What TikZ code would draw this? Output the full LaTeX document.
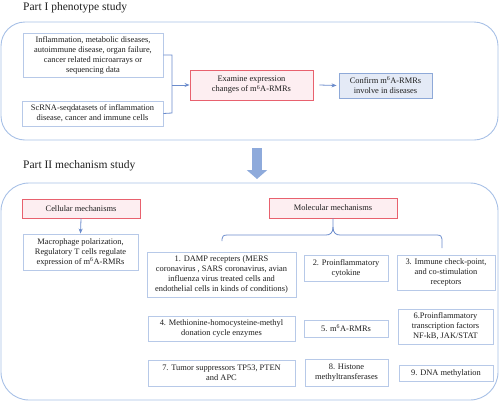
\documentclass[tikz,border=0pt]{standalone}
\usepackage{fontspec}
\setmainfont{Liberation Serif}
\usetikzlibrary{arrows.meta,positioning,calc}
\definecolor{outerc}{HTML}{A7C0E6}
\definecolor{boxc}{HTML}{B7C9E8}
\definecolor{redc}{HTML}{E8616E}
\definecolor{pinkc}{HTML}{FDEEF1}
\definecolor{confc}{HTML}{E4EAF6}
\definecolor{confb}{HTML}{8EA9D8}
\definecolor{arrc}{HTML}{6B8CCC}
\definecolor{bigc}{HTML}{8EAADB}
\definecolor{txt}{HTML}{1E1E1E}
\newcommand{\mA}{m\textsuperscript{6}A}
\begin{document}
\begin{tikzpicture}[x=1pt,y=-1pt,
  outerbox/.style={draw=outerc,line width=0.9pt,rounded corners=24pt,inner sep=0pt},
  bbox/.style={draw=boxc,fill=white,line width=0.9pt,align=center,inner sep=0pt,
    text=txt,font=\fontsize{8.4}{10}\selectfont},
  rbox/.style={bbox,draw=redc,fill=pinkc},
  cbox/.style={bbox,draw=confb,fill=confc},
  title/.style={anchor=west,text=txt,font=\fontsize{11.5}{13}\selectfont,inner sep=0pt},
  arr/.style={draw=arrc,line width=0.8pt,-{Stealth[length=5pt,width=4pt]}},
  ln/.style={draw=arrc,line width=0.8pt}]
\useasboundingbox (0,0) rectangle (500,402);

% Part I
\node[title] (t1) at (23,8) {Part I phenotype study};
\node[outerbox,minimum width=497pt,minimum height=118pt] (top) at (249.5,81) {};
\node[bbox,minimum width=140pt,minimum height=44pt] (A) at (93,55)
  {Inflammation, metabolic diseases,\\autoimmune disease, organ failure,\\cancer related microarrays or\\sequencing data};
\node[bbox,minimum width=141pt,minimum height=25pt] (B) at (92.5,113.5)
  {ScRNA-seqdatasets of inflammation\\disease, cancer and immune cells};
\node[rbox,minimum width=123pt,minimum height=30pt] (E) at (251.5,85)
  {Examine expression\\changes of \mA-RMRs};
\node[cbox,minimum width=93pt,minimum height=25pt] (C) at (385.5,85.5)
  {Confirm \mA-RMRs\\involve in diseases};
\coordinate (jA) at (172,55);
\coordinate (jB) at (172,113);
\coordinate (jM) at (172,85);
\draw[ln] (A.east) -- (jA) -- (jB) -- (B.east);
\draw[arr] (jM) -- (E.west);
\draw[arr] ([xshift=6pt]E.east) -- ([xshift=-2pt]C.west);

% big arrow
\coordinate (ba1) at (257,148);
\coordinate (ba2) at (257,179);
\draw[draw=bigc,line width=10pt,-{Triangle[length=9pt,width=20pt]}] (ba1) -- (ba2);

% Part II
\node[title] (t2) at (23,166) {Part II mechanism study};
\node[outerbox,rounded corners=28pt,minimum width=497pt,minimum height=217pt] (bot) at (249.5,291.5) {};
\node[rbox,minimum width=118pt,minimum height=19pt] (cell) at (81,208.5) {Cellular mechanisms};
\node[bbox,minimum width=115pt,minimum height=36pt] (mac) at (80.5,252)
  {Macrophage polarization,\\Regulatory T cells regulate\\expression of \mA-RMRs};
\draw[arr] (cell.south) -- (mac.north);
\node[rbox,minimum width=128pt,minimum height=20pt] (mol) at (333,208) {Molecular mechanisms};

\node[bbox,minimum width=149pt,minimum height=45pt] (b1) at (221.5,274.5)
  {1. DAMP recepters (MERS\\coronavirus , SARS coronavirus, avian\\influenza virus treated cells and\\endothelial cells in kinds of conditions)};
\node[bbox,minimum width=84pt,minimum height=26pt] (b2) at (346,268)
  {2. Proinflammatory\\cytokine};
\node[bbox,minimum width=98pt,minimum height=35pt] (b3) at (446,272.5)
  {3. Immune check-point,\\and co-stimulation\\receptors};
\node[bbox,minimum width=147pt,minimum height=25pt] (b4) at (221.5,328.5)
  {4. Methionine-homocysteine-methyl\\donation cycle enzymes};
\node[bbox,minimum width=84pt,minimum height=17pt] (b5) at (346,328.5)
  {5. \mA-RMRs};
\node[bbox,minimum width=95pt,minimum height=35pt] (b6) at (445.5,326.5)
  {6.Proinflammatory\\transcription factors\\NF-kB, JAK/STAT};
\node[bbox,minimum width=147pt,minimum height=26pt] (b7) at (221.5,373)
  {7. Tumor suppressors TP53, PTEN\\and APC};
\node[bbox,minimum width=83pt,minimum height=27pt] (b8) at (346.5,372.5)
  {8. Histone\\methyltransferases};
\node[bbox,minimum width=94pt,minimum height=16pt] (b9) at (446,373)
  {9. DNA methylation};

% brace
\coordinate (bl) at (222,241);
\coordinate (br) at (442,248);
\coordinate (btip) at (333,227);
\draw[ln] (mol.south) -- (btip)
  .. controls (333,233) and (330,235) .. (326,235)
  -- (227,235) .. controls (223.5,235) and (222,236.5) .. (222,239) -- (bl);
\draw[ln] (btip)
  .. controls (333,233) and (336,235) .. (340,235)
  -- (437,235) .. controls (440.5,235) and (442,236.5) .. (442,239) -- (br);
\end{tikzpicture}
\end{document}
